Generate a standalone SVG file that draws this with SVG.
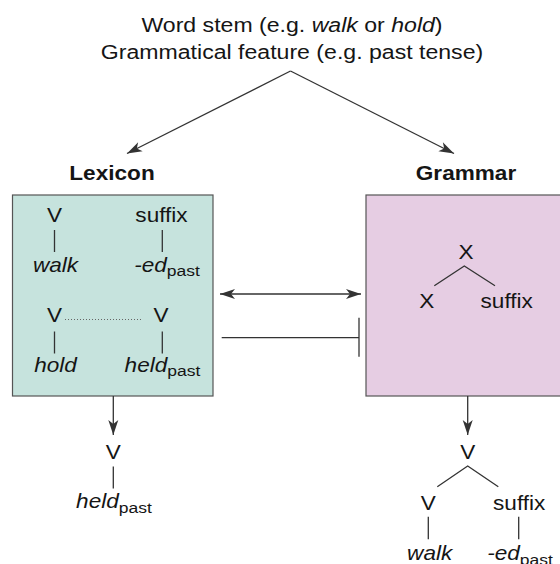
<svg xmlns="http://www.w3.org/2000/svg" width="560" height="564" viewBox="0 0 560 564">
  <style>
    text { font-family: "Liberation Sans", Arial, Helvetica, sans-serif; fill: #151515; text-anchor: middle; }
    .top { font-size: 21px; }
    .head { font-size: 20px; font-weight: bold; }
    .lbl { font-size: 20px; }
    .it { font-style: italic; }
    .sub { font-size: 15.5px; font-style: normal; }
    .box { stroke: #555; stroke-width: 1.2; }
    .lex { fill: #c6e3dd; }
    .gram { fill: #e6cde3; }
    .edge { stroke: #333; stroke-width: 1.3; fill: none; }
    .dots { stroke: #666; stroke-width: 1; stroke-dasharray: 1 2; fill: none; }
  </style>
  <defs>
    <marker id="arrow" viewBox="-16 -6 17 12" refX="0" refY="0" markerWidth="17" markerHeight="12" markerUnits="userSpaceOnUse" orient="auto-start-reverse">
      <path d="M0,0 L-15,-5 L-11,0 L-15,5 Z" fill="#333"/>
    </marker>
  </defs>

  <!-- input description -->
  <g id="input">
    <text class="top" transform="translate(292,32) scale(1.1,1)">Word stem (e.g. <tspan class="it">walk</tspan> or <tspan class="it">hold</tspan>)</text>
    <text class="top" transform="translate(292,59) scale(1.1,1)">Grammatical feature (e.g. past tense)</text>
  </g>

  <!-- lexicon route -->
  <g id="lexicon">
    <text class="head" transform="translate(112,180) scale(1.13,1)">Lexicon</text>
    <rect class="box lex" x="12.5" y="195" width="200.5" height="201"/>
    <text class="lbl" transform="translate(54.5,222) scale(1.13,1)">V</text>
    <line class="edge" x1="54.5" y1="230" x2="54.5" y2="252"/>
    <text class="lbl it" transform="translate(55.5,271.5) scale(1.13,1)">walk</text>
    <text class="lbl" transform="translate(161.5,222) scale(1.13,1)">suffix</text>
    <line class="edge" x1="162.3" y1="230" x2="162.3" y2="252"/>
    <text class="lbl it" transform="translate(167,271.5) scale(1.13,1)">-ed<tspan class="sub" dy="4.5">past</tspan></text>
    <text class="lbl" transform="translate(54.5,321.5) scale(1.13,1)">V</text>
    <line class="dots" x1="65" y1="319.5" x2="142" y2="319.5"/>
    <text class="lbl" transform="translate(161,321.5) scale(1.13,1)">V</text>
    <line class="edge" x1="54.5" y1="331.5" x2="54.5" y2="353.5"/>
    <line class="edge" x1="162.3" y1="331.5" x2="162.3" y2="353.5"/>
    <text class="lbl it" transform="translate(55.5,371.5) scale(1.13,1)">hold</text>
    <text class="lbl it" transform="translate(162.5,371.5) scale(1.13,1)">held<tspan class="sub" dy="4.5">past</tspan></text>
  </g>

  <!-- grammar route -->
  <g id="grammar">
    <text class="head" transform="translate(466,180) scale(1.13,1)">Grammar</text>
    <rect class="box gram" x="366" y="195" width="200" height="201"/>
    <text class="lbl" transform="translate(466,259) scale(1.13,1)">X</text>
    <polyline class="edge" points="434.3,285.7 464.3,266 495,285.7"/>
    <text class="lbl" transform="translate(426.7,308.3) scale(1.13,1)">X</text>
    <text class="lbl" transform="translate(506.7,308.3) scale(1.13,1)">suffix</text>
  </g>

  <!-- lexicon output -->
  <g id="lexicon-output">
    <text class="lbl" transform="translate(113.3,459) scale(1.13,1)">V</text>
    <line class="edge" x1="113.3" y1="466.5" x2="113.3" y2="488.5"/>
    <text class="lbl it" transform="translate(114,508.3) scale(1.13,1)">held<tspan class="sub" dy="5">past</tspan></text>
  </g>

  <!-- grammar output -->
  <g id="grammar-output">
    <text class="lbl" transform="translate(467.7,459) scale(1.13,1)">V</text>
    <polyline class="edge" points="437.3,486.7 467.7,466 498.3,486.7"/>
    <text class="lbl" transform="translate(428.3,510) scale(1.13,1)">V</text>
    <text class="lbl" transform="translate(519.2,510) scale(1.13,1)">suffix</text>
    <line class="edge" x1="428.3" y1="516.7" x2="428.3" y2="539.3"/>
    <line class="edge" x1="518.7" y1="516.7" x2="518.7" y2="539.3"/>
    <text class="lbl it" transform="translate(429.7,560) scale(1.13,1)">walk</text>
    <text class="lbl it" transform="translate(520,560) scale(1.13,1)">-ed<tspan class="sub" dy="4.5">past</tspan></text>
  </g>

  <!-- connectors -->
  <g id="connectors">
    <line class="edge" x1="290.5" y1="71" x2="127" y2="153.5" marker-end="url(#arrow)"/>
    <line class="edge" x1="290.5" y1="71" x2="454" y2="153.5" marker-end="url(#arrow)"/>
    <line class="edge" x1="220" y1="294" x2="361" y2="294" marker-start="url(#arrow)" marker-end="url(#arrow)"/>
    <line class="edge" x1="221.7" y1="337.7" x2="359" y2="337.7"/>
    <line class="edge" x1="359" y1="317.7" x2="359" y2="356.7" stroke-width="1.6"/>
    <line class="edge" x1="113.3" y1="396" x2="113.3" y2="435" marker-end="url(#arrow)"/>
    <line class="edge" x1="467.7" y1="396" x2="467.7" y2="435" marker-end="url(#arrow)"/>
  </g>
</svg>
